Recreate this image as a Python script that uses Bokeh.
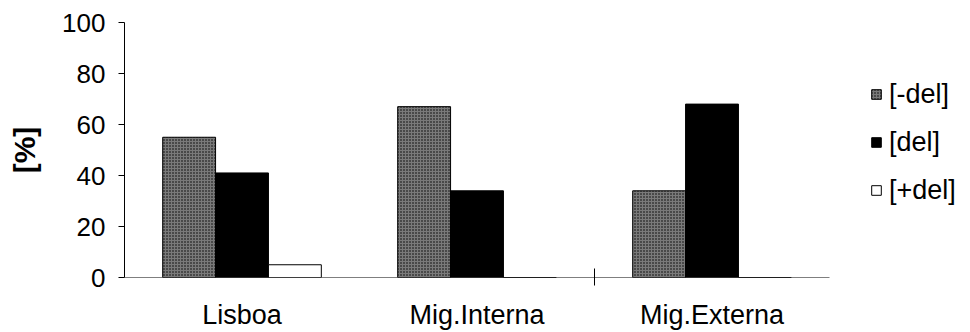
import numpy as np
from bokeh.plotting import figure
from bokeh.models import Range1d, Legend, LegendItem, ColumnDataSource, FixedTicker
from bokeh.transform import dodge
from bokeh.embed import file_html
from bokeh.resources import INLINE

categories = ["Lisboa", "Mig.Interna", "Mig.Externa"]
minus_del = [55, 67, 34]
del_vals = [41, 34, 68]
plus_del = [5, 0, 0]
series_labels = ["[-del]", "[del]", "[+del]"]
y_ticks = [0, 20, 40, 60, 80, 100]

n = len(categories)
centers = (np.arange(n) + 0.5).tolist()
src = ColumnDataSource(dict(x=centers, m=minus_del, d=del_vals, p=plus_del))

FONT = "Liberation Sans"

p = figure(width=970, height=332, x_range=Range1d(0, 3.6), y_range=Range1d(0, 100),
           output_backend="svg", toolbar_location=None,
           min_border_left=124, min_border_right=0, min_border_top=22, min_border_bottom=55)
p.outline_line_color = None
p.xgrid.visible = False
p.ygrid.visible = False
p.background_fill_color = "white"
p.border_fill_color = "white"

w = 0.225
r1 = p.vbar(x=dodge("x", -w), top="m", width=w, source=src,
            fill_color="#7a7a7a", hatch_pattern="dot", hatch_color="black", hatch_scale=3,
            hatch_weight=1.2, line_color="black", line_width=1)
r2 = p.vbar(x=dodge("x", 0), top="d", width=w, source=src,
            fill_color="black", line_color="black", line_width=1)
r3 = p.vbar(x=dodge("x", w), top="p", width=w, source=src,
            fill_color="white", line_color="black", line_width=1)

# x axis baseline spanning the categories only
p.segment(x0=[0], y0=[0], x1=[n], y1=[0], line_color="black", line_width=1)

# y axis
p.yaxis.ticker = FixedTicker(ticks=y_ticks)
p.yaxis.minor_tick_line_color = None
p.yaxis.major_tick_in = 0
p.yaxis.major_tick_out = 6
p.yaxis.major_label_standoff = 13
p.yaxis.major_label_text_font = FONT
p.yaxis.major_label_text_font_size = "26px"
p.yaxis.major_label_text_color = "black"
p.yaxis.axis_line_color = "black"
p.yaxis.axis_label = "[%]"
p.yaxis.axis_label_text_font = FONT
p.yaxis.axis_label_text_font_style = "bold"
p.yaxis.axis_label_text_font_size = "30px"
p.yaxis.axis_label_text_color = "black"
p.yaxis.axis_label_standoff = 18

# x axis
p.xaxis.ticker = FixedTicker(ticks=centers, minor_ticks=[2])
p.xaxis.major_label_overrides = {c: lab for c, lab in zip(centers, categories)}
p.xaxis.axis_line_color = None
p.xaxis.major_tick_line_color = None
p.xaxis.major_tick_out = 0
p.xaxis.major_tick_in = 0
p.xaxis.minor_tick_line_color = "black"
p.xaxis.minor_tick_in = 9
p.xaxis.minor_tick_out = 8
p.xaxis.major_label_standoff = 14
p.xaxis.major_label_text_font = FONT
p.xaxis.major_label_text_font_size = "27px"
p.xaxis.major_label_text_color = "black"

legend = Legend(items=[LegendItem(label=series_labels[0], renderers=[r1]),
                       LegendItem(label=series_labels[1], renderers=[r2]),
                       LegendItem(label=series_labels[2], renderers=[r3])],
                location=(746, 71))
legend.border_line_color = None
legend.background_fill_alpha = 0
legend.padding = 0
legend.margin = 0
legend.glyph_width = 12
legend.glyph_height = 12
legend.label_height = 32
legend.spacing = 16
legend.label_standoff = 7
legend.label_text_font = FONT
legend.label_text_font_size = "27px"
legend.label_text_color = "black"
p.add_layout(legend, "center")

open("out.html", "w").write(file_html(p, INLINE))
